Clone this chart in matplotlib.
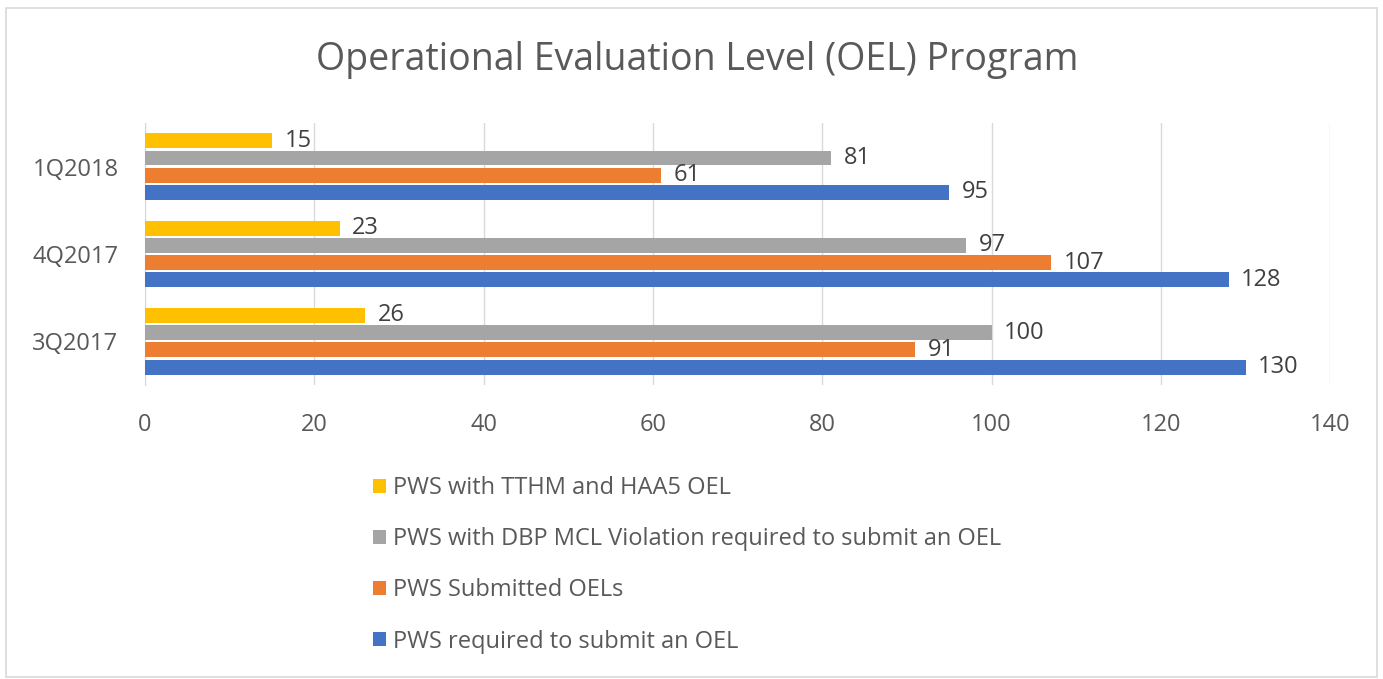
import numpy as np
import matplotlib
matplotlib.use("Agg")
import matplotlib.pyplot as plt
from matplotlib.patches import Rectangle

# Data
categories = ["3Q2017", "4Q2017", "1Q2018"]
series_names = [
    "PWS required to submit an OEL",
    "PWS Submitted OELs",
    "PWS with DBP MCL Violation required to submit an OEL",
    "PWS with TTHM and HAA5 OEL",
]
required = [130, 128, 95]
submitted = [91, 107, 61]
dbp_violation = [100, 97, 81]
tthm_haa5 = [26, 23, 15]
x_ticks = [0, 20, 40, 60, 80, 100, 120, 140]

series_values = [required, submitted, dbp_violation, tthm_haa5]
colors = ["#4472C4", "#ED7D31", "#A5A5A5", "#FFC000"]

plt.rcParams['font.family'] = ['Open Sans', 'DejaVu Sans']

fig = plt.figure(figsize=(13.83, 6.79), dpi=100)
fig.patches.append(Rectangle((0.004, 0.003), 0.992, 0.985, transform=fig.transFigure,
                             fill=False, edgecolor="#d9d9d9", linewidth=1.2))
ax = fig.add_axes([0.1048, 0.433, 0.857, 0.386])

y = np.arange(len(categories))
step = 0.197
bar_h = 0.17
handles = []
for i, (name, vals, col) in enumerate(zip(series_names, series_values, colors)):
    offs = (i - 1.5) * step
    bars = ax.barh(y + offs, vals, height=bar_h, color=col, label=name, zorder=3)
    handles.append(bars)
    for yy, v in zip(y + offs, vals):
        ax.text(v + 1.5, yy, str(v), va="center", ha="left", fontsize=17,
                color="#404040", zorder=4)

ax.set_xlim(0, 140)
ax.set_ylim(-0.5, 2.5)
ax.set_xticks(x_ticks)
ax.set_yticks(y)
ax.set_yticklabels(categories)
ax.grid(axis="x", color="#d9d9d9", linewidth=1.0, zorder=0)
for s in ["top", "right", "bottom"]:
    ax.spines[s].set_visible(False)
ax.spines["left"].set_color("#d9d9d9")
ax.tick_params(axis="both", length=0, labelsize=17, labelcolor="#595959")
ax.tick_params(axis="x", pad=20)
ax.tick_params(axis="y", pad=19)

fig.text(0.504, 0.912, "Operational Evaluation Level (OEL) Program", ha="center",
         va="center", fontsize=27, color="#595959")

leg = fig.legend(handles[::-1], series_names[::-1], loc="upper left",
                 bbox_to_anchor=(0.254, 0.33), frameon=False, fontsize=17,
                 labelcolor="#595959", handlelength=0.55, handleheight=0.55,
                 handletextpad=0.3, labelspacing=1.15)

fig.savefig("out.png", dpi=100)
